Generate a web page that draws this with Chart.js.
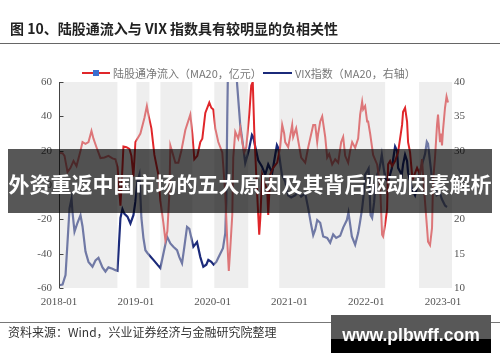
<!DOCTYPE html>
<html>
<head>
<meta charset="utf-8">
<script src="https://cdn.jsdelivr.net/npm/chart.js@4/dist/chart.umd.min.js"></script>
<style>
  body { margin: 0; width: 500px; height: 362px; background: #fff; position: relative; overflow: hidden; }
  .abs { position: absolute; }
  #title { left: 10px; top: 19px; font: bold 14px "Noto Sans CJK SC", sans-serif; color: #222; line-height: 18px; white-space: nowrap; }
  .rule { left: 0; width: 500px; height: 1px; background: #666; }
  .legend { top: 66px; font: 11px "Noto Sans CJK SC", sans-serif; color: #777; line-height: 14px; white-space: nowrap; }
  .swatch { height: 2px; top: 72px; }
  #source { left: 8px; top: 324px; font: 12px "Noto Sans CJK SC", sans-serif; color: #333; line-height: 16px; white-space: nowrap; }
  #banner { left: 8px; top: 149px; width: 484px; height: 64px; background: rgba(0,0,0,0.66); }
  #banner span { display: block; color: #fff; font: bold 21px "Noto Sans CJK SC", sans-serif; line-height: 64px; text-align: center; position: relative; top: 2px; white-space: nowrap; }
  #mark { left: 331px; top: 315px; width: 160px; height: 38px; background: linear-gradient(#585858 0, #585858 24px, #000 24px); }
  #mark span { position: absolute; left: 0; width: 160px; top: 10px; text-align: center; color: #fff; font: bold 17.5px "Liberation Sans", sans-serif; line-height: 20px; }
</style>
</head>
<body>
<canvas id="chart" class="abs" width="500" height="362" style="left:0;top:0"></canvas>

<div id="title" class="abs">图 10、陆股通流入与 VIX 指数具有较明显的负相关性</div>
<div class="abs rule" style="top:43px"></div>

<div class="abs swatch" style="left:82px;width:28px;background:#e0262a"></div>
<div class="abs" style="left:93px;top:70px;width:6px;height:6px;background:#3a6fd0"></div>
<div class="abs legend" style="left:113px">陆股通净流入（MA20，亿元）</div>
<div class="abs swatch" style="left:263px;width:29px;background:#1b2a7a"></div>
<div class="abs legend" style="left:295px">VIX指数（MA20，右轴）</div>

<div class="abs rule" style="top:322px;background:#777"></div>
<div id="source" class="abs">资料来源：Wind，兴业证券经济与金融研究院整理</div>

<div id="banner" class="abs"><span>外资重返中国市场的五大原因及其背后驱动因素解析</span></div>
<div id="mark" class="abs"><span>www.plbwff.com</span></div>

<script>
// x values are decimal years (2018.5 = mid 2018)
const yearTicks = [2018, 2019, 2020, 2021, 2022, 2023];
const yearLabels = ["2018-01", "2019-01", "2020-01", "2021-01", "2022-01", "2023-01"];

const inflowTicks = [-60, -40, -20, 0, 20, 40, 60];
const vixTicks = [10, 15, 20, 25, 30, 35, 40];

// shaded periods
const bandStarts = [2018.000, 2019.008, 2019.320, 2020.022, 2020.868, 2022.688];
const bandEnds = [2018.761, 2019.177, 2019.736, 2020.464, 2022.246, 2023.117];

// 陆股通净流入 MA20 (亿元), left axis
const inflowDates = [
  2018.000, 2018.046, 2018.072, 2018.111, 2018.150, 2018.189, 2018.228, 2018.280, 2018.306, 2018.345,
  2018.384, 2018.423, 2018.449, 2018.488, 2018.540, 2018.592, 2018.644, 2018.696, 2018.735, 2018.761,
  2018.800, 2018.826, 2018.839, 2018.878, 2018.917, 2018.943, 2018.969, 2018.995, 2019.060, 2019.112,
  2019.144, 2019.164, 2019.203, 2019.242, 2019.294, 2019.320, 2019.359, 2019.385, 2019.411, 2019.437,
  2019.450, 2019.476, 2019.515, 2019.554, 2019.593, 2019.645, 2019.710, 2019.736, 2019.762, 2019.801,
  2019.840, 2019.866, 2019.905, 2019.957, 2019.983, 2020.009, 2020.035, 2020.074, 2020.126, 2020.165,
  2020.191, 2020.211, 2020.230, 2020.256, 2020.269, 2020.295, 2020.334, 2020.360, 2020.386, 2020.412,
  2020.438, 2020.477, 2020.503, 2020.523, 2020.542, 2020.568, 2020.594, 2020.607, 2020.620, 2020.646,
  2020.672, 2020.711, 2020.724, 2020.750, 2020.789, 2020.841, 2020.880, 2020.906, 2020.932, 2020.945,
  2020.984, 2021.036, 2021.049, 2021.088, 2021.114, 2021.153, 2021.206, 2021.245, 2021.310, 2021.336,
  2021.362, 2021.375, 2021.401, 2021.427, 2021.466, 2021.492, 2021.518, 2021.557, 2021.596, 2021.635,
  2021.674, 2021.700, 2021.726, 2021.765, 2021.791, 2021.817, 2021.856, 2021.895, 2021.921, 2021.947,
  2021.960, 2021.986, 2022.012, 2022.025, 2022.051, 2022.090, 2022.142, 2022.181, 2022.207, 2022.220,
  2022.246, 2022.272, 2022.285, 2022.311, 2022.337, 2022.376, 2022.415, 2022.467, 2022.480, 2022.506,
  2022.532, 2022.545, 2022.571, 2022.597, 2022.610, 2022.662, 2022.701, 2022.727, 2022.740, 2022.766,
  2022.792, 2022.805, 2022.831, 2022.857, 2022.870, 2022.896, 2022.922, 2022.935, 2022.961, 2022.974,
  2022.987, 2023.000, 2023.026, 2023.046, 2023.065
];
const inflowValues = [
  18.6, 18.5, 17, 7.6, 10, 14, 11, 20, 25, 24,
  25, 31.5, 27, 22, 15.7, 16, 17, 15.5, 15, 10.5,
  -12, 10, 22.4, 22, 21, 17, 5, 25, 30, 39,
  46, 41, 33, 17.5, 6, -9, -22, -32, -27, -5,
  23, 19, 13, 13, 20, 32, 41, 30, 15, 17,
  25, 27, 42, 48, 45, 44, 33, 25, 19, -5,
  -33, -50, -37, -17.5, 16, 31, 27, 33, 25, 19,
  22, 41, 58, 60, 32, 6, -17.5, -29, -20, 6,
  2, -3, -17.5, 6, 10, 13, 22, 35, 30, 25,
  22, 35, 28, 33, 26, 16, 13, 22, 35, 35,
  25, 30, 37, 40, 28, 16, 18, 12, 15, 13,
  25, 28, 17, 13, 20, 25, 21.6, 27, 41, 48.5,
  44, 46, 37, 37, 30, 17.5, 12, 0, -29, -30,
  -23, -14, 12, 14, 11, 14, 19, 35, 42.7, 45,
  37, 25, 19, 6, 4, 10, 6, 15, 6, -10,
  -25, -33, -35, -25, 2, 16, 35, 41, 25, 30,
  23, 32, 45, 51.5, 48
];

// VIX 指数 MA20, right axis
const vixDates = [
  2018.000, 2018.046, 2018.085, 2018.111, 2018.137, 2018.163, 2018.176, 2018.202, 2018.241, 2018.280,
  2018.306, 2018.345, 2018.384, 2018.436, 2018.475, 2018.514, 2018.566, 2018.605, 2018.644, 2018.696,
  2018.735, 2018.761, 2018.778, 2018.800, 2018.826, 2018.852, 2018.891, 2018.930, 2018.969, 2018.995,
  2019.021, 2019.047, 2019.073, 2019.099, 2019.125, 2019.151, 2019.190, 2019.229, 2019.281, 2019.320,
  2019.359, 2019.407, 2019.450, 2019.489, 2019.537, 2019.567, 2019.602, 2019.632, 2019.667, 2019.697,
  2019.749, 2019.797, 2019.840, 2019.879, 2019.918, 2019.944, 2019.983, 2020.013, 2020.048, 2020.074,
  2020.135, 2020.165, 2020.178, 2020.191, 2020.204, 2020.230, 2020.269, 2020.295, 2020.317, 2020.360,
  2020.390, 2020.425, 2020.468, 2020.512, 2020.529, 2020.555, 2020.594, 2020.642, 2020.685, 2020.724,
  2020.776, 2020.802, 2020.837, 2020.854, 2020.902, 2020.945, 2020.984, 2021.023, 2021.075, 2021.114,
  2021.153, 2021.206, 2021.245, 2021.283, 2021.310, 2021.336, 2021.362, 2021.401, 2021.440, 2021.492,
  2021.531, 2021.570, 2021.609, 2021.661, 2021.700, 2021.748, 2021.769, 2021.813, 2021.856, 2021.895,
  2021.921, 2021.947, 2021.966, 2021.986, 2022.012, 2022.031, 2022.044, 2022.057, 2022.077, 2022.103,
  2022.116, 2022.142, 2022.168, 2022.181, 2022.203, 2022.220, 2022.246, 2022.285, 2022.333, 2022.376,
  2022.402, 2022.415, 2022.463, 2022.480, 2022.506, 2022.532, 2022.545, 2022.593, 2022.636, 2022.675,
  2022.701, 2022.727, 2022.740, 2022.766, 2022.789, 2022.805, 2022.831, 2022.857, 2022.871, 2022.896,
  2022.918, 2022.961, 2022.983, 2023.026, 2023.052
];
const vixValues = [
  10.4, 10.5, 11.9, 16.7, 21.6, 23, 21, 18.2, 19.5, 20.6,
  19, 15.3, 13.8, 13.1, 14, 14.4, 13, 12.4, 13, 12.8,
  12.6, 12.5, 15.8, 20.2, 21.5, 20.8, 20.4, 19.4, 20.6, 22.6,
  25.5, 26.5, 20.2, 17.3, 15.5, 15.1, 14.6, 14.1, 13.4, 12.9,
  15, 17.5, 16.5, 16, 15.5, 14.5, 13.6, 16, 18.9, 18.6,
  16, 16.7, 14.5, 13.1, 13.4, 14.1, 13.8, 13.4, 13.8, 14.4,
  15.8, 18, 22.8, 35, 45, 55, 55, 48, 40, 33.7,
  31.3, 28.2, 29.9, 32.3, 32, 30.6, 28.6, 27.7, 26.5, 28,
  26.8, 28.5, 30.8, 30.4, 26.5, 25.5, 23.5, 23.2, 23.5, 24,
  23.3, 23.8, 21.6, 19.2, 17.7, 18.5, 19.9, 19.5, 17.5, 17.3,
  16.6, 17.8, 17.3, 17.6, 18.8, 19.9, 21, 17.5, 16.3, 18,
  19.7, 21.6, 23.5, 26.5, 27, 27.4, 24, 20.6, 20.2, 22.5,
  24.5, 26.5, 27.2, 27.9, 29.4, 28, 26, 25.5, 27.4, 30.6,
  30, 27.5, 26.5, 28, 29.4, 28.5, 26.8, 24.5, 23.5, 25.2,
  27, 28, 28.5, 29.5, 31.3, 31, 28.4, 25.9, 25.5, 25,
  23.5, 23.8, 23, 22, 21.8
];

const tickFont = { family: "Liberation Serif", size: 11 };

// gray periods are laid over the lines, which makes them look lighter inside
const bandPlugin = {
  id: "bands",
  afterDatasetsDraw(chart) {
    const { ctx, chartArea, scales } = chart;
    ctx.save();
    ctx.fillStyle = "rgba(217,217,217,0.45)";
    bandStarts.forEach((s, i) => {
      const x0 = scales.x.getPixelForValue(s);
      const x1 = scales.x.getPixelForValue(bandEnds[i]);
      ctx.fillRect(x0, chartArea.top, x1 - x0, chartArea.bottom - chartArea.top);
    });
    ctx.restore();
  }
};

// left axis line with short ticks pointing inwards
const leftAxisPlugin = {
  id: "leftAxis",
  afterDraw(chart) {
    const { ctx, chartArea, scales } = chart;
    const x = Math.round(chartArea.left) + 0.5;
    ctx.save();
    ctx.strokeStyle = "#444";
    ctx.lineWidth = 1;
    ctx.beginPath();
    ctx.moveTo(x, chartArea.top);
    ctx.lineTo(x, chartArea.bottom);
    inflowTicks.forEach(v => {
      const y = Math.round(scales.y.getPixelForValue(v)) + 0.5;
      ctx.moveTo(x, y);
      ctx.lineTo(x + 4, y);
    });
    ctx.stroke();
    ctx.restore();
  }
};

new Chart(document.getElementById("chart"), {
  type: "line",
  data: {
    datasets: [
      {
        label: "陆股通净流入（MA20，亿元）",
        data: inflowDates.map((d, i) => ({ x: d, y: inflowValues[i] })),
        yAxisID: "y",
        borderColor: "#e0262a",
        borderWidth: 2,
        pointRadius: 0,
        tension: 0
      },
      {
        label: "VIX指数（MA20，右轴）",
        data: vixDates.map((d, i) => ({ x: d, y: vixValues[i] })),
        yAxisID: "y1",
        borderColor: "#1b2a7a",
        borderWidth: 2.2,
        pointRadius: 0,
        tension: 0
      }
    ]
  },
  options: {
    responsive: false,
    animation: false,
    devicePixelRatio: 1,
    layout: { padding: { top: 82, left: 0, right: 0, bottom: 0 } },
    plugins: {
      legend: { display: false },
      tooltip: { enabled: false }
    },
    scales: {
      x: {
        type: "linear",
        min: 2018,
        max: 2023.117,
        grid: { display: false, drawTicks: false },
        border: { display: false },
        afterBuildTicks: scale => { scale.ticks = yearTicks.map(v => ({ value: v })); },
        afterFit: scale => { scale.height = 74; },
        ticks: {
          font: tickFont,
          color: "#555",
          padding: 8,
          maxRotation: 0,
          autoSkip: false,
          callback: (value, index) => yearLabels[index]
        }
      },
      y: {
        position: "left",
        min: -60,
        max: 60,
        grid: { display: false, drawTicks: false },
        border: { display: false },
        afterBuildTicks: scale => { scale.ticks = inflowTicks.map(v => ({ value: v })); },
        afterFit: scale => { scale.width = 59; },
        ticks: { font: tickFont, color: "#555", padding: 7 }
      },
      y1: {
        position: "right",
        min: 10,
        max: 40,
        grid: { display: false, drawTicks: false },
        border: { display: false },
        afterBuildTicks: scale => { scale.ticks = vixTicks.map(v => ({ value: v })); },
        afterFit: scale => { scale.width = 48; },
        ticks: { font: tickFont, color: "#555", padding: 2 }
      }
    }
  },
  plugins: [bandPlugin, leftAxisPlugin]
});
</script>
</body>
</html>
